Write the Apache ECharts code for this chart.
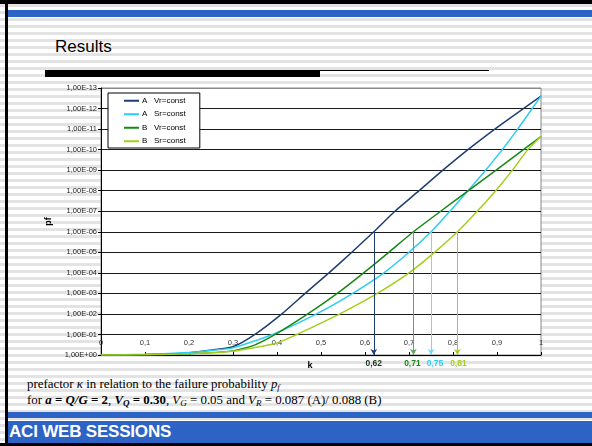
<!DOCTYPE html>
<html>
<head>
<meta charset="utf-8">
<script src="https://cdn.jsdelivr.net/npm/echarts@6/dist/echarts.min.js"></script>
<style>
    html, body { margin: 0; padding: 0; }
    body {
        width: 592px; height: 446px; position: relative; overflow: hidden;
        background: repeating-linear-gradient(to bottom, #fff 0px, #fff 4px, #e3e3e3 4px, #e3e3e3 7px);
        font-family: "Liberation Sans", Arial, sans-serif;
    }
    .topblack { position: absolute; left: 0; top: 0; width: 592px; height: 4px; background: #000; }
    .leftblack { position: absolute; left: 5px; top: 0; width: 3px; height: 446px; background: #000; }
    .bottomblack { position: absolute; left: 0; top: 443px; width: 592px; height: 3px; background: #000; }
    .blueband { position: absolute; left: 8px; top: 10px; width: 584px; height: 7px; background: #2c63c4; }
    .footer1 { position: absolute; left: 8px; top: 412px; width: 584px; height: 6px; background: #2c63c4; }
    .footer2 { position: absolute; left: 8px; top: 421px; width: 584px; height: 22px; background: #2c63c4; }
    .footer2 span { position: absolute; left: 1px; top: 1px; color: #fff; font-weight: bold; font-size: 17px; letter-spacing: -0.2px; }
    .title { position: absolute; left: 55px; top: 37px; font-size: 17px; color: #000; }
    .bar { position: absolute; left: 45px; top: 70px; width: 275px; height: 7px; background: #000; }
    .thin { position: absolute; left: 320px; top: 70px; width: 169px; height: 1px; background: #000; }
    .caption { position: absolute; left: 27px; top: 376px; font-family: "Liberation Serif", "Times New Roman", serif; font-size: 12.9px; line-height: 16px; color: #000; }
    .caption sub { font-size: 9px; vertical-align: -2px; line-height: 0; }
    #chart { position: absolute; left: 0; top: 0; width: 592px; height: 446px; }
</style>
</head>
<body>
<div class="topblack"></div>
<div class="blueband"></div>
<div class="title">Results</div>
<div class="bar"></div>
<div class="thin"></div>
<div class="caption">
    prefactor <i>κ</i> in relation to the failure probability <i>p<sub>f</sub></i><br>
    for <b><i>a</i> = <i>Q/G</i> = 2</b>, <b><i>V<sub>Q</sub></i> = 0.30</b>, <i>V<sub>G</sub></i> = 0.05 and <i>V<sub>R</sub></i> = 0.087 (A)/ 0.088 (B)
</div>
<div class="footer1"></div>
<div class="footer2"><span>ACI WEB SESSIONS</span></div>
<div class="leftblack"></div>
<div class="bottomblack"></div>
<div id="chart"></div>
<script>
// k values and failure probabilities
const seriesNames = ['A   Vr=const', 'A   Sr=const', 'B   Vr=const', 'B   Sr=const']
const seriesColors = ['#1f3f70', '#2ccdf5', '#168816', '#a3cf1c']

const kAVr = [0, 0.1, 0.2, 0.25, 0.3, 0.35, 0.411, 0.464, 0.518, 0.57, 0.62, 0.668, 0.723, 0.777, 0.834, 0.895, 0.96, 1.0]
const pfAVr = [1, 0.955, 0.79, 0.58, 0.4, 1e-1, 1e-2, 1e-3, 1e-4, 1e-5, 1e-6, 1e-7, 1e-8, 1e-9, 1e-10, 1e-11, 1e-12, 2.5e-13]

const kASr = [0, 0.1, 0.2, 0.25, 0.3, 0.39, 0.49, 0.572, 0.643, 0.70, 0.75, 0.793, 0.834, 0.874, 0.912, 0.947, 0.98, 1.0]
const pfASr = [1, 0.93, 0.76, 0.6, 0.45, 1e-1, 1e-2, 1e-3, 1e-4, 1e-5, 1e-6, 1e-7, 1e-8, 1e-9, 1e-10, 1e-11, 1e-12, 2.5e-13]

const kBVr = [0, 0.1, 0.2, 0.3, 0.35, 0.396, 0.47, 0.537, 0.597, 0.654, 0.71, 0.772, 0.835, 0.898, 0.96, 1.0]
const pfBVr = [1, 0.98, 0.87, 0.63, 0.32, 1e-1, 1e-2, 1e-3, 1e-4, 1e-5, 1e-6, 1e-7, 1e-8, 1e-9, 1e-10, 2.3e-11]

const kBSr = [0, 0.1, 0.2, 0.3, 0.4, 0.445, 0.5, 0.543, 0.628, 0.70, 0.758, 0.81, 0.855, 0.897, 0.935, 0.97, 1.0]
const pfBSr = [1, 0.98, 0.87, 0.66, 0.26, 1e-1, 0.028, 1e-2, 1e-3, 1e-4, 1e-5, 1e-6, 1e-7, 1e-8, 1e-9, 1e-10, 2.3e-11]

// target pf and the k where each curve reaches it
const pfTarget = 1e-6
const kAtTarget = [0.62, 0.75, 0.71, 0.81]
const kLabelColors = ['#17381a', '#2ccdf5', '#168816', '#a3cf1c']
const arrowColors = ['#1f3f70', '#6fdcf7', '#5aa85a', '#a3cf1c']
const kLabelShift = [0, 4, -1, 1]

const yTicks = 14
const splitColors = []
for (let i = 0; i < yTicks; i++) {
    splitColors.push(i === 0 ? '#888' : '#1a1a1a')
}

function fmtPf(v) {
    let e = Math.round(Math.log10(v))
    let a = Math.abs(e)
    return '1,00E' + (e < 0 ? '-' : '+') + (a < 10 ? '0' + a : a)
}

function fmtK(v) {
    return String(+v.toFixed(2)).replace('.', ',')
}

let chart = echarts.init(document.getElementById('chart'))

let kSets = [kAVr, kASr, kBVr, kBSr]
let pfSets = [pfAVr, pfASr, pfBVr, pfBSr]

let series = []
seriesNames.forEach((name, s) => {
    series.push({
        name: name,
        type: 'line',
        smooth: 0.2,
        symbol: 'none',
        color: seriesColors[s],
        lineStyle: {width: 1.5, color: seriesColors[s]},
        data: kSets[s].map((k, i) => [k, pfSets[s][i]]),
        z: 3,
        markLine: {
            silent: true,
            symbol: ['none', 'arrow'],
            symbolSize: [5, 6],
            lineStyle: {type: 'solid', width: 1, color: arrowColors[s]},
            label: {show: false},
            data: [
                [
                    {coord: [kAtTarget[s], pfTarget]},
                    {coord: [kAtTarget[s], 1], label: {
                        show: true,
                        position: 'end',
                        distance: 4,
                        offset: [kLabelShift[s], 0],
                        formatter: fmtK(kAtTarget[s]),
                        color: kLabelColors[s],
                        fontWeight: 'bold',
                        fontSize: 8.5,
                        fontFamily: 'Liberation Sans, sans-serif'
                    }}
                ]
            ]
        }
    })
})

// red limit line at pf = 1e-6
series.push({
    name: 'limit',
    type: 'line',
    data: [],
    markLine: {
        silent: true,
        symbol: ['none', 'none'],
        lineStyle: {type: 'solid', width: 2, color: '#e5433b'},
        label: {show: false},
        data: [{yAxis: pfTarget}]
    },
    z: 2
})

let option = {
    animation: false,
    textStyle: {fontFamily: 'Liberation Sans, Arial, sans-serif'},
    grid: {
        left: 101,
        right: 51,
        top: 88,
        bottom: 91,
        show: true,
        backgroundColor: '#fff',
        borderColor: '#888',
        borderWidth: 1
    },
    legend: {
        data: seriesNames,
        orient: 'vertical',
        left: 108,
        top: 93,
        padding: [3, 14, 2, 16],
        itemGap: 4,
        itemWidth: 15,
        itemHeight: 2,
        icon: 'rect',
        backgroundColor: '#fff',
        borderColor: '#000',
        borderWidth: 1,
        borderRadius: 0,
        textStyle: {fontSize: 8, lineHeight: 9.5, color: '#000', padding: [0, 0, 0, -2]}
    },
    xAxis: {
        type: 'value',
        min: 0,
        max: 1,
        interval: 0.1,
        name: 'k',
        nameLocation: 'middle',
        nameGap: 6,
        nameTextStyle: {fontWeight: 'bold', fontSize: 9, color: '#000', padding: [0, 22, 0, 0]},
        axisLine: {show: true, lineStyle: {color: '#000', width: 1}},
        axisTick: {show: true, inside: true, length: 3, lineStyle: {color: '#000'}},
        axisLabel: {inside: true, margin: 8, fontSize: 7.5, color: '#333', formatter: fmtK},
        splitLine: {show: false}
    },
    yAxis: {
        type: 'log',
        logBase: 10,
        min: 1e-13,
        max: 1,
        interval: 1,
        inverse: true,
        name: 'pf',
        nameLocation: 'middle',
        nameGap: 48,
        nameTextStyle: {fontWeight: 'bold', fontSize: 9, color: '#000'},
        axisLine: {show: true, lineStyle: {color: '#000', width: 1}},
        axisTick: {show: true, inside: false, length: 3, lineStyle: {color: '#000'}},
        axisLabel: {fontSize: 7.5, color: '#222', margin: 4, formatter: fmtPf},
        minorTick: {show: false},
        splitLine: {show: true, lineStyle: {color: splitColors, width: 1}}
    },
    series: series
}

chart.setOption(option)
</script>
</body>
</html>
